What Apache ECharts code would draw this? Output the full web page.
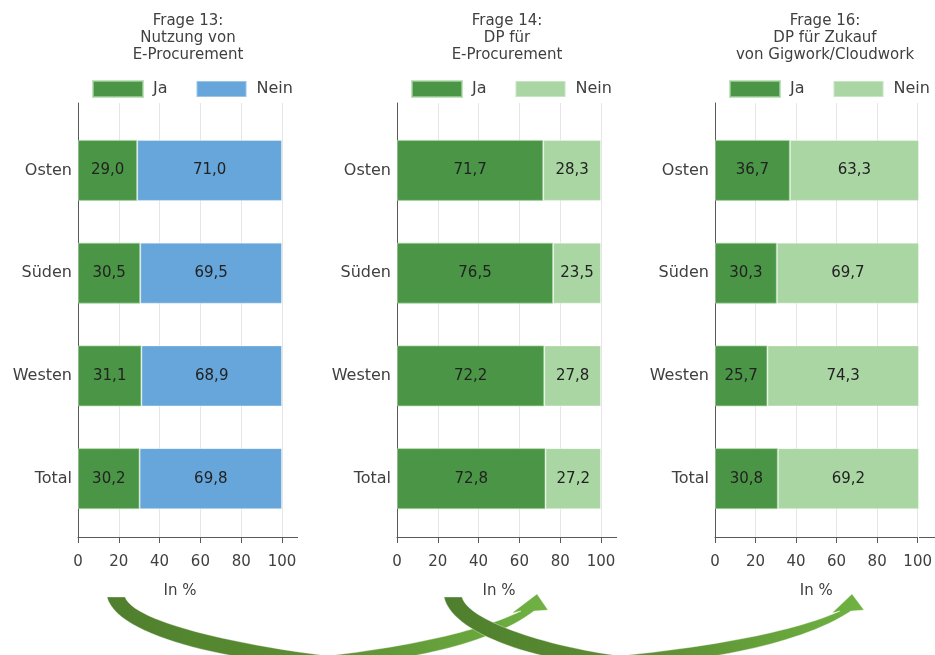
<!DOCTYPE html>
<html>
<head>
<meta charset="utf-8">
<script src="https://cdn.jsdelivr.net/npm/echarts@6/dist/echarts.min.js"></script>
<style>
html,body{margin:0;padding:0;background:#fff;}
#chart{width:935px;height:655px;}
</style>
</head>
<body>
<div id="chart"></div>
<script>
// ---- data ----
const categories = ['Osten', 'Süden', 'Westen', 'Total'];
const titles = [
  'Frage 13:\nNutzung von\nE-Procurement',
  'Frage 14:\nDP für\nE-Procurement',
  'Frage 16:\nDP für Zukauf\nvon Gigwork/Cloudwork'
];
const seriesNames = ['Ja', 'Nein'];
const ja13 = [29.0, 30.5, 31.1, 30.2];
const nein13 = [71.0, 69.5, 68.9, 69.8];
const ja14 = [71.7, 76.5, 72.2, 72.8];
const nein14 = [28.3, 23.5, 27.8, 27.2];
const ja16 = [36.7, 30.3, 25.7, 30.8];
const nein16 = [63.3, 69.7, 74.3, 69.2];
const xTicks = [0, 20, 40, 60, 80, 100];
const axisName = 'In %';

// ---- styling / layout ----
const FONT = 'DejaVu Sans';
const TXT = '#404040';
const GREEN = '#4a9646';
const BLUE = '#66a6da';
const LGREEN = '#aad6a4';
const panelLefts = [78, 397, 715];
const plotW = 204;
const panels = [
  {title: titles[0], ja: ja13, nein: nein13, neinColor: BLUE},
  {title: titles[1], ja: ja14, nein: nein14, neinColor: LGREEN},
  {title: titles[2], ja: ja16, nein: nein16, neinColor: LGREEN}
];

const grid = [], xAxis = [], yAxis = [], series = [], title = [], legend = [], graphic = [];
const fmt = v => v.toFixed(1).replace('.', ',');

panels.forEach((p, i) => {
  const L = panelLefts[i];
  grid.push({left: L, top: 103, width: plotW, height: 434, containLabel: false});
  grid.push({left: L, top: 119, width: plotW, height: 411, containLabel: false});
  const gF = 2 * i, gB = 2 * i + 1;
  xAxis.push({
    type: 'value', gridIndex: gF, min: xTicks[0], max: xTicks[xTicks.length - 1], interval: 20,
    axisLine: {show: true, lineStyle: {color: '#595959', width: 1}},
    axisTick: {show: true, length: 6, lineStyle: {color: '#595959'}},
    axisLabel: {show: true, margin: 18, color: TXT, fontFamily: FONT, fontSize: 15},
    splitLine: {show: true, lineStyle: {color: '#e6e6e6', width: 1}},
    name: axisName, nameLocation: 'middle', nameGap: 47,
    nameTextStyle: {color: TXT, fontFamily: FONT, fontSize: 15}
  });
  yAxis.push({
    type: 'value', gridIndex: gF, min: 0, max: 1,
    axisLine: {show: true, lineStyle: {color: '#595959', width: 1}},
    axisTick: {show: false}, axisLabel: {show: false}, splitLine: {show: false}
  });
  xAxis.push({type: 'value', gridIndex: gB, min: 0, max: 100, show: false});
  yAxis.push({
    type: 'category', gridIndex: gB, data: categories, inverse: true,
    axisLine: {show: false}, axisTick: {show: false}, splitLine: {show: false},
    axisLabel: {margin: 6, color: TXT, fontFamily: FONT, fontSize: 16}
  });
  const xi = 2 * i + 1, yi = 2 * i + 1;
  series.push({
    name: seriesNames[0], type: 'bar', stack: 's' + i, xAxisIndex: xi, yAxisIndex: yi,
    data: p.ja, barWidth: 61,
    itemStyle: {color: GREEN, borderColor: 'rgba(170,214,164,0.7)', borderWidth: 1},
    label: {show: true, position: 'inside', color: '#222', fontFamily: FONT, fontSize: 15,
      formatter: o => fmt(o.value)},
    silent: true
  });
  series.push({
    name: seriesNames[1], type: 'bar', stack: 's' + i, xAxisIndex: xi, yAxisIndex: yi,
    data: p.nein, barWidth: 61,
    itemStyle: {color: p.neinColor, borderColor: 'rgba(255,255,255,0.35)', borderWidth: 1},
    label: {show: true, position: 'inside', color: '#222', fontFamily: FONT, fontSize: 15,
      formatter: o => fmt(o.value)},
    silent: true
  });
  title.push({
    text: p.title, left: L + 110, top: 13, textAlign: 'center', padding: 0,
    textStyle: {color: TXT, fontFamily: FONT, fontSize: 15, fontWeight: 'normal', lineHeight: 17}
  });
  legend.push({
    left: L + 14, top: 80, orient: 'horizontal', icon: 'rect', padding: 0,
    itemWidth: 50, itemHeight: 16, itemGap: 28, selectedMode: false,
    textStyle: {color: TXT, fontFamily: FONT, fontSize: 16, padding: [0, 0, 0, 5]},
    data: [
      {name: seriesNames[0], itemStyle: {color: GREEN}},
      {name: seriesNames[1], itemStyle: {color: p.neinColor}}
    ]
  });
  graphic.push({type: 'line', shape: {x1: L + plotW, y1: 537.5, x2: L + plotW + 16, y2: 537.5},
    style: {stroke: '#595959', lineWidth: 1}, z: 10});
});

// ---- decorative curved arrows (outline from cubic Bézier segments) ----
function bez(p0, p1, p2, p3, n) {
  const out = [];
  for (let k = 1; k <= n; k++) {
    const s = k / n, u = 1 - s;
    out.push([0, 1].map(j => u*u*u*p0[j] + 3*u*u*s*p1[j] + 3*u*s*s*p2[j] + s*s*s*p3[j]));
  }
  return out;
}
function arrowShape(start, innerSegs, head, outerSegs) {
  let pts = [start[0], start[1]];
  let cur = start[1];
  innerSegs.forEach(s => { pts = pts.concat(bez(cur, s[0], s[1], s[2], 30)); cur = s[2]; });
  pts = pts.concat(head);
  cur = head[head.length - 1];
  outerSegs.forEach(s => { pts = pts.concat(bez(cur, s[0], s[1], s[2], 30)); cur = s[2]; });
  return pts;
}
const arrow1 = arrowShape(
  [[107, 597], [125, 597]],
  [[[135, 625], [260, 648], [328, 655.8]], [[380, 650], [470, 636], [521, 611]]],
  [[512, 613], [537, 594], [548, 610], [534, 611]],
  [[[490, 645], [400, 662], [328, 666]], [[250, 664], [118, 640], [107, 597]]]
);
const arrow2 = arrowShape(
  [[444, 597], [462, 597]],
  [[[468, 622], [555, 648], [620, 655.8]], [[680, 650], [785, 636], [840, 611]]],
  [[832, 613], [852, 594], [864, 610], [851, 611]],
  [[[800, 645], [700, 662], [620, 666]], [[545, 664], [452, 635], [444, 597]]]
);
const arrowFill = {
  type: 'linear', x: 0, y: 0, x2: 1, y2: 0,
  colorStops: [{offset: 0, color: '#4f7f2d'}, {offset: 0.5, color: '#5c8f33'}, {offset: 1, color: '#6fb242'}]
};
graphic.push({type: 'polygon', z: 20, shape: {points: arrow1},
  style: {fill: arrowFill, stroke: 'rgba(255,255,255,0.6)', lineWidth: 0.6}});
graphic.push({type: 'polygon', z: 21, shape: {points: arrow2},
  style: {fill: arrowFill, stroke: 'rgba(255,255,255,0.6)', lineWidth: 0.6}});

const chart = echarts.init(document.getElementById('chart'), null, {renderer: 'canvas'});
chart.setOption({
  animation: false,
  backgroundColor: '#ffffff',
  textStyle: {fontFamily: FONT},
  title, legend, grid, xAxis, yAxis, series, graphic
});
</script>
</body>
</html>
